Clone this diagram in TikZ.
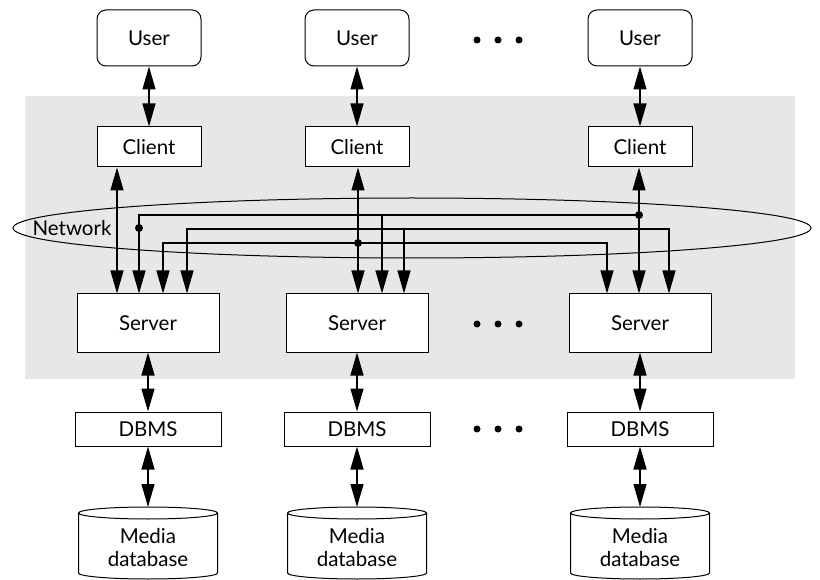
\documentclass[tikz,border=0pt]{standalone}
\usepackage{fontspec}
\setmainfont{Lato}
\usetikzlibrary{arrows.meta,shapes.geometric}
\definecolor{netgray}{RGB}{230,231,233}

\begin{document}
\begin{tikzpicture}[x=1pt,y=-1pt,
    every node/.style={font=\fontsize{20.5}{23}\selectfont},
    user/.style={draw,line width=1pt,rounded corners=9pt,fill=white,minimum width=104pt,minimum height=56pt},
    client/.style={draw,line width=1pt,fill=white,minimum width=104pt,minimum height=40pt},
    server/.style={draw,line width=1pt,fill=white,minimum width=142pt,minimum height=58pt},
    dbms/.style={draw,line width=1pt,fill=white,minimum width=146pt,minimum height=34pt},
    media/.style={align=center,inner sep=0pt},
    arr/.style={line width=1.2pt,-{Triangle[length=23pt 0 0,width=13pt 0 0]}},
    biarr/.style={line width=1.2pt,{Triangle[length=23pt 0 0,width=13pt 0 0]}-{Triangle[length=23pt 0 0,width=13pt 0 0]}},
    dot/.style={circle,fill,inner sep=0pt,minimum size=8pt}]
    \useasboundingbox (0,0) rectangle (820,580);
    % shaded area
    \fill[netgray] (25,96) rectangle (795,379);
    % network
    \node[draw,ellipse,line width=1pt,inner sep=0pt,minimum width=798pt,minimum height=60pt] (net) at (412,228) {};
    \node (netlabel) at (72,228) {Network};

    % column 1
    \node[user] (u1) at (149,38) {User};
    \node[client] (c1) at (149,147) {Client};
    \node[server] (s1) at (148,323) {Server};
    \node[dbms] (d1) at (148,429) {DBMS};
    \node[media] (m1) at (148,548) {Media\\database};
    % column 2
    \node[user] (u2) at (357,38) {User};
    \node[client] (c2) at (357,147) {Client};
    \node[server] (s2) at (357,323) {Server};
    \node[dbms] (d2) at (357,429) {DBMS};
    \node[media] (m2) at (357,548) {Media\\database};
    % column 3
    \node[user] (u3) at (640,38) {User};
    \node[client] (c3) at (640,147) {Client};
    \node[server] (s3) at (640,323) {Server};
    \node[dbms] (d3) at (640,429) {DBMS};
    \node[media] (m3) at (640,548) {Media\\database};

    % media databases
    \foreach \m in {m1,m2,m3} {
      \draw[line width=1pt] ([shift={(-69.5,-35)}]\m.center) -- ([shift={(-69.5,25)}]\m.center)
        arc[start angle=180,end angle=360,x radius=69.5pt,y radius=6pt] -- ([shift={(69.5,-35)}]\m.center);
      \draw[line width=1pt] ([shift={(0,-35)}]\m.center) ellipse [x radius=69.5pt,y radius=6pt];
      \coordinate (\m top) at ([yshift=41pt]\m.center);
    }

    % user - client, server - dbms - media
    \draw[biarr] (u1) -- (c1);
    \draw[biarr] (u2) -- (c2);
    \draw[biarr] (u3) -- (c3);
    \draw[biarr] (s1) -- (d1);
    \draw[biarr] (s2) -- (d2);
    \draw[biarr] (s3) -- (d3);
    \draw[biarr] (d1) -- (m1top);
    \draw[biarr] (d2) -- (m2top);
    \draw[biarr] (d3) -- (m3top);

    % network lines
    \coordinate (k1) at (117,228);
    \coordinate (a1) at (139,215);
    \coordinate (a2) at (382,215);
    \coordinate (a3) at (639,215);
    \coordinate (b1) at (187,229);
    \coordinate (b2) at (404,229);
    \coordinate (b3) at (669,229);
    \coordinate (e1) at (163,243);
    \coordinate (e2) at (358,243);
    \coordinate (e3) at (607,243);
    \draw[biarr] (c1.south -| k1) -- (s1.north -| k1);
    \draw[biarr] (c2.south -| e2) -- (s2.north -| e2);
    \draw[biarr] (c3.south -| a3) -- (s3.north -| a3);
    \draw[arr] (a3) -- (a1) -- (s1.north -| a1);
    \draw[arr] (a2) -- (s2.north -| a2);
    \draw[biarr] (s3.north -| b3) -- (b3) -- (b1) -- (s1.north -| b1);
    \draw[arr] (b2) -- (s2.north -| b2);
    \draw[biarr] (s1.north -| e1) -- (e1) -- (e3) -- (s3.north -| e3);
    \node[dot] (ja) at (a3) {};
    \node[dot] (jb) at (139,228) {};
    \node[dot] (jc) at (e2) {};

    % dots
    \foreach \x in {477,498,519}
      \foreach \y in {40,324,429}
        \fill (\x,\y) circle (3.5pt);
\end{tikzpicture}
\end{document}
